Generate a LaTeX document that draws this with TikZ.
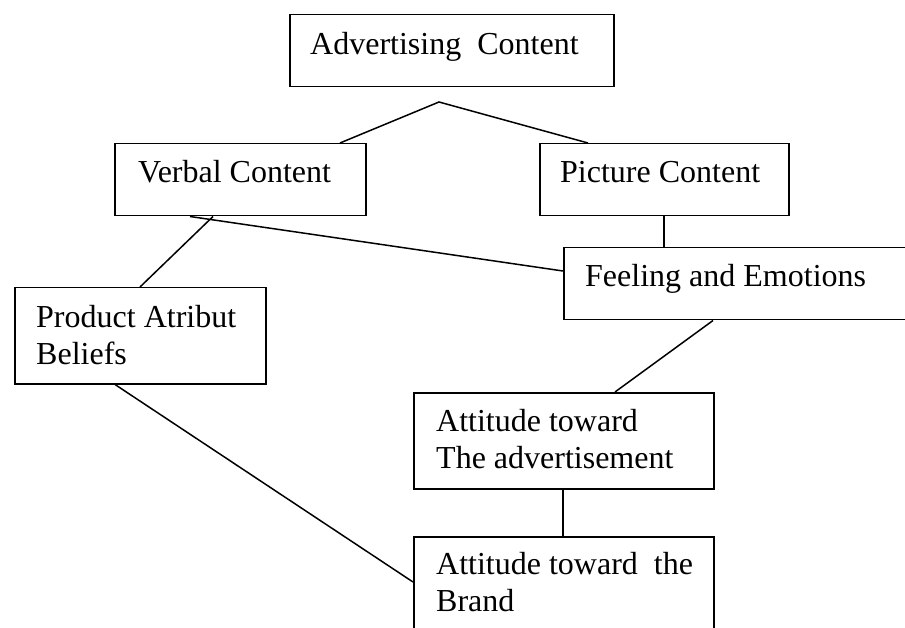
\documentclass[tikz,border=0pt]{standalone}
\usepackage{fontspec}
\setmainfont{Liberation Serif}
\begin{document}
\begin{tikzpicture}[x=1pt,y=-1pt,
  boxshape/.style={draw=black, line width=1.5pt, rectangle, inner sep=0pt, anchor=north west},
  lbl/.style={anchor=base west, inner sep=0pt, font=\fontsize{32}{37.7}\selectfont},
  conn/.style={draw=black, line width=1.5pt}]
\useasboundingbox (0,0) rectangle (905,628);
\clip (0,0) rectangle (905,628);
% boxes
\node[boxshape, minimum width=324pt, minimum height=72pt] (adv) at (289,14) {};
\node[boxshape, minimum width=251pt, minimum height=72pt] (verbal) at (114,143) {};
\node[boxshape, minimum width=249pt, minimum height=72pt] (picture) at (539,143) {};
\node[boxshape, minimum width=357pt, minimum height=72pt] (feeling) at (563,247) {};
\node[boxshape, minimum width=251pt, minimum height=96pt] (product) at (14,287) {};
\node[boxshape, minimum width=300pt, minimum height=96pt] (att) at (413,392) {};
\node[boxshape, minimum width=300pt, minimum height=114pt] (brand) at (413,536) {};
% texts
\node[lbl] (advT) at (310,55) {Advertising\ \ Content};
\node[lbl] (verbalT) at (138,183) {Verbal Content};
\node[lbl] (pictureT) at (560,183) {Picture Content};
\node[lbl] (feelingT) at (585,287) {Feeling and Emotions};
\node[lbl] (productT) at (36,327) {\parbox[t]{300pt}{\fontsize{32}{37.7}\selectfont Product Atribut\\Beliefs}};
\node[lbl] (attT) at (436,431) {\parbox[t]{300pt}{\fontsize{32}{37.7}\selectfont Attitude toward\\The advertisement}};
\node[lbl] (brandT) at (436,574) {\parbox[t]{300pt}{\fontsize{32}{37.7}\selectfont Attitude toward\ \ the\\Brand}};
% connectors
\coordinate (peak) at (439,102);
\draw[conn] ([xshift=226pt]verbal.north west) -- (peak) -- ([xshift=49pt]picture.north west);
\draw[conn] ([xshift=125pt]picture.south west) -- ([xshift=101pt]feeling.north west);
\draw[conn] ([xshift=76pt]verbal.south west) -- ([yshift=-24pt]feeling.north west);
\draw[conn] ([xshift=99pt]verbal.south west) -- ([xshift=126pt]product.north west);
\draw[conn] ([xshift=101pt]product.south west) -- ([yshift=-46pt]brand.north west);
\draw[conn] ([xshift=150pt]feeling.south west) -- ([xshift=202pt]att.north west);
\draw[conn] ([xshift=150pt]att.south west) -- ([xshift=150pt]brand.north west);
\end{tikzpicture}
\end{document}
